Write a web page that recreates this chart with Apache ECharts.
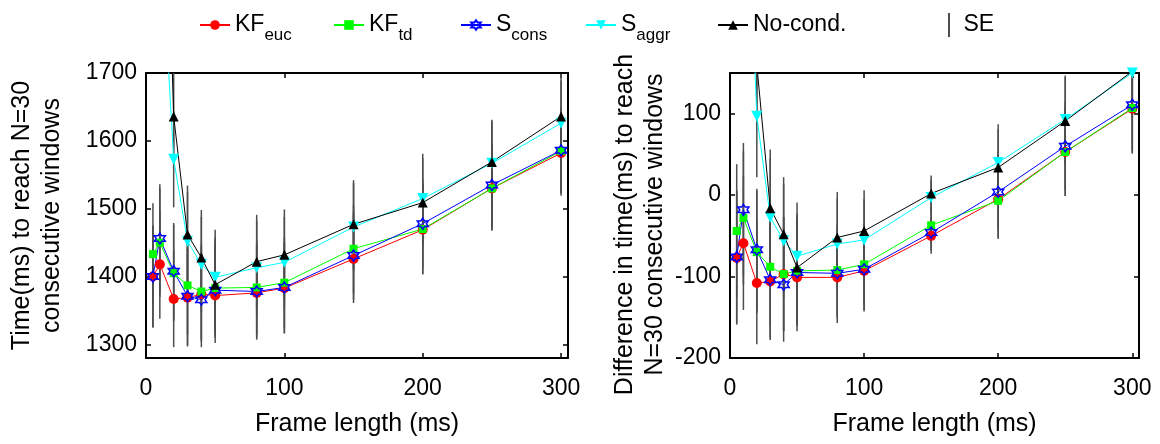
<!DOCTYPE html>
<html>
<head>
<meta charset="utf-8">
<script src="https://cdn.jsdelivr.net/npm/echarts@6/dist/echarts.min.js"></script>
<style>
html,body{margin:0;padding:0;background:#fff;}
#chart{width:1160px;height:444px;}
</style>
</head>
<body>
<div id="chart"></div>
<script>
// ---------- data ----------
const frameLengths = [5, 10, 20, 30, 40, 50, 80, 100, 150, 200, 250, 300];
const seriesNames = ['KF_euc', 'KF_td', 'S_cons', 'S_aggr', 'No-cond.'];

// left panel: time (ms) to reach N=30 consecutive windows
const leftKFeuc  = [1400, 1418, 1367, 1369, 1374, 1372, 1376, 1383, 1426, 1469, 1530, 1582];
const leftKFtd   = [1433, 1450, 1405, 1387, 1378, 1383, 1384, 1391, 1441, 1470, 1530, 1585];
const leftScons  = [1400, 1456, 1408, 1371, 1366, 1380, 1378, 1384, 1431, 1478, 1535, 1586];
const leftSaggr  = [2100, 1930, 1573, 1452, 1418, 1399, 1413, 1421, 1473, 1515, 1567, 1626];
const leftNoCond = [2500, 2300, 1636, 1462, 1428, 1388, 1422, 1432, 1477, 1509, 1569, 1636];
const leftSE     = [75, 80, 71, 72, 70, 70, 69, 67, 65, 66, 62, 63];

// right panel: difference in time (ms) to reach N=30 consecutive windows
const rightKFeuc  = [-77, -59, -108, -106, -97, -101, -101, -93, -50, -5, 53, 106];
const rightKFtd   = [-44, -28, -70, -88, -97, -93, -92, -85, -37, -7, 53, 107];
const rightScons  = [-76, -18, -67, -104, -110, -95, -96, -91, -46, 4, 60, 111];
const rightSaggr  = [700, 500, 97, -27, -56, -75, -60, -55, -3, 40, 93, 150];
const rightNoCond = [750, 600, 160, -16, -48, -89, -52, -44, 2, 34, 91, 152];
const rightSE     = [82, 82, 75, 72, 70, 66, 56, 50, 22, 47, 54, 55];

const xTicks = [0, 100, 200, 300];
const leftYTicks = [1300, 1400, 1500, 1600, 1700];
const rightYTicks = [-200, -100, 0, 100];

// ---------- styles ----------
const FONT = 'Liberation Sans, Arial, sans-serif';
const hexagram = 'path://M0,-10 L2.89,-5 L8.66,-5 L5.77,0 L8.66,5 L2.89,5 L0,10 L-2.89,5 L-8.66,5 L-5.77,0 L-8.66,-5 L-2.89,-5 Z';
const styles = {
  'KF_euc':   {color: '#ff0000', symbol: 'circle', size: 10, rotate: 0, fill: '#ff0000'},
  'KF_td':    {color: '#00ff00', symbol: 'rect', size: 8, rotate: 0, fill: '#00ff00'},
  'S_cons':   {color: '#0000ff', symbol: hexagram, size: 11, rotate: 0, fill: 'rgba(255,255,255,0)'},
  'S_aggr':   {color: '#00ffff', symbol: 'triangle', size: 11, rotate: 180, fill: '#00ffff'},
  'No-cond.': {color: '#000000', symbol: 'triangle', size: 10, rotate: 0, fill: '#000000'}
};
const leftValues = [leftKFeuc, leftKFtd, leftScons, leftSaggr, leftNoCond];
const rightValues = [rightKFeuc, rightKFtd, rightScons, rightSaggr, rightNoCond];

function pairs(vals) { return frameLengths.map((x, i) => [x, vals[i]]); }

function lineSeries(name, vals, axisIdx) {
  const s = styles[name];
  return {
    name: name, type: 'line', xAxisIndex: axisIdx, yAxisIndex: axisIdx,
    data: pairs(vals), clip: true, z: 3,
    symbol: s.symbol, symbolSize: s.size, symbolRotate: s.rotate, showAllSymbol: true,
    lineStyle: {color: s.color, width: 1},
    itemStyle: {color: s.fill, borderColor: s.color, borderWidth: name === 'S_cons' ? 1.5 : 0},
    emphasis: {disabled: true}, animation: false
  };
}

function errData(valuesList, se) {
  const out = [];
  valuesList.forEach(vals => {
    frameLengths.forEach((x, i) => out.push([x, vals[i] - se[i], vals[i] + se[i]]));
  });
  return out;
}

function errRender(params, api) {
  const x = api.value(0), lo = api.value(1), hi = api.value(2);
  const p1 = api.coord([x, lo]), p2 = api.coord([x, hi]);
  const cs = params.coordSys;
  const top = cs.y, bot = cs.y + cs.height;
  const y1 = Math.min(Math.max(p1[1], top), bot);
  const y2 = Math.min(Math.max(p2[1], top), bot);
  if (Math.abs(y1 - y2) < 0.5) return null;
  return {type: 'line', shape: {x1: p1[0], y1: y1, x2: p1[0], y2: y2},
          style: {stroke: '#4d4d4d', lineWidth: 1.5}};
}

function errSeries(valuesList, se, axisIdx) {
  return {
    name: 'SE', type: 'custom', xAxisIndex: axisIdx, yAxisIndex: axisIdx,
    data: errData(valuesList, se), renderItem: errRender, z: 2,
    encode: {x: 0, y: [1, 2]}, itemStyle: {color: '#4d4d4d'}, animation: false, silent: true
  };
}

const tickStyle = {inside: true, length: 5, lineStyle: {color: '#000', width: 1.5}};
const axisLineStyle = {show: true, onZero: false, lineStyle: {color: '#000', width: 2}};
const labelStyle = {color: '#000', fontSize: 23, fontFamily: FONT, formatter: v => String(v)};
const nameStyle = {color: '#000', fontSize: 25, fontFamily: FONT, lineHeight: 30};

function xAxisPair(grid, ticks) {
  return [
    {type: 'value', gridIndex: grid, position: 'bottom', min: 0, max: 305,
     axisLine: axisLineStyle, splitLine: {show: false},
     axisTick: Object.assign({customValues: ticks}, tickStyle),
     axisLabel: Object.assign({customValues: ticks, margin: 19}, labelStyle),
     name: 'Frame length (ms)', nameLocation: 'middle', nameGap: 51, nameTextStyle: nameStyle},
    {type: 'value', gridIndex: grid, position: 'top', min: 0, max: 305,
     axisLine: axisLineStyle, splitLine: {show: false},
     axisTick: Object.assign({customValues: ticks}, tickStyle),
     axisLabel: {show: false}}
  ];
}

function yAxisPair(grid, min, max, ticks, name, gap, pad) {
  return [
    {type: 'value', gridIndex: grid, position: 'left', min: min, max: max,
     axisLine: axisLineStyle, splitLine: {show: false},
     axisTick: Object.assign({customValues: ticks}, tickStyle),
     axisLabel: Object.assign({customValues: ticks, margin: 9}, labelStyle),
     name: name, nameLocation: 'middle', nameRotate: 90, nameGap: gap,
     nameTextStyle: Object.assign({align: 'center', padding: pad}, nameStyle)},
    {type: 'value', gridIndex: grid, position: 'right', min: min, max: max,
     axisLine: axisLineStyle, splitLine: {show: false},
     axisTick: Object.assign({customValues: ticks}, tickStyle),
     axisLabel: {show: false}}
  ];
}

// legends: one component per entry so each sits at its own place
const legendLefts = [199, 333, 460, 585, 717];
const legendRich = {
  m: {fontSize: 23, fontFamily: FONT, color: '#000', lineHeight: 26},
  s: {fontSize: 17, fontFamily: FONT, color: '#000', lineHeight: 17, padding: [21, 0, 0, 0]}
};
function legendFormatter(name) {
  const k = name.indexOf('_');
  if (k < 0) return '{m|' + (name === 'SE' ? ' SE' : name) + '}{s| }';
  return '{m|' + name.slice(0, k) + '}{s|' + name.slice(k + 1) + '}';
}
const legends = seriesNames.map((n, i) => ({
  data: [n], left: legendLefts[i], top: 6, itemWidth: 30, itemHeight: 12, padding: 0,
  formatter: legendFormatter, textStyle: {rich: legendRich, fontSize: 23, fontFamily: FONT},
  selectedMode: false
}));
legends.push({
  data: [{name: 'SE', icon: 'path://M0,0 L2,0 L2,24 L0,24 Z', itemStyle: {color: '#4d4d4d'}}],
  left: 948, top: 6, itemWidth: 6, itemHeight: 24, padding: 0, symbolKeepAspect: true,
  formatter: legendFormatter, textStyle: {rich: legendRich, fontSize: 23, fontFamily: FONT},
  selectedMode: false
});

const series = [
  errSeries(leftValues, leftSE, 0),
  errSeries(rightValues, rightSE, 2)
];
seriesNames.forEach((n, i) => series.push(lineSeries(n, leftValues[i], 0)));
seriesNames.forEach((n, i) => series.push(lineSeries(n, rightValues[i], 2)));

const option = {
  backgroundColor: '#ffffff',
  animation: false,
  legend: legends,
  grid: [
    {left: 146, top: 73, width: 422, height: 298},
    {left: 730, top: 73, width: 409, height: 298}
  ],
  xAxis: xAxisPair(0, xTicks).concat(xAxisPair(1, xTicks)),
  yAxis: yAxisPair(0, 1280, 1700, leftYTicks, 'Time(ms) to reach N=30\nconsecutive windows', 79, [0, 0, 0, 0])
    .concat(yAxisPair(1, -200, 150, rightYTicks, 'Difference in time(ms) to reach\nN=30 consecutive windows', 60, [0, 18, 0, 0])),
  series: series
};

const chart = echarts.init(document.getElementById('chart'), null, {renderer: 'canvas'});
chart.setOption(option);
</script>
</body>
</html>
